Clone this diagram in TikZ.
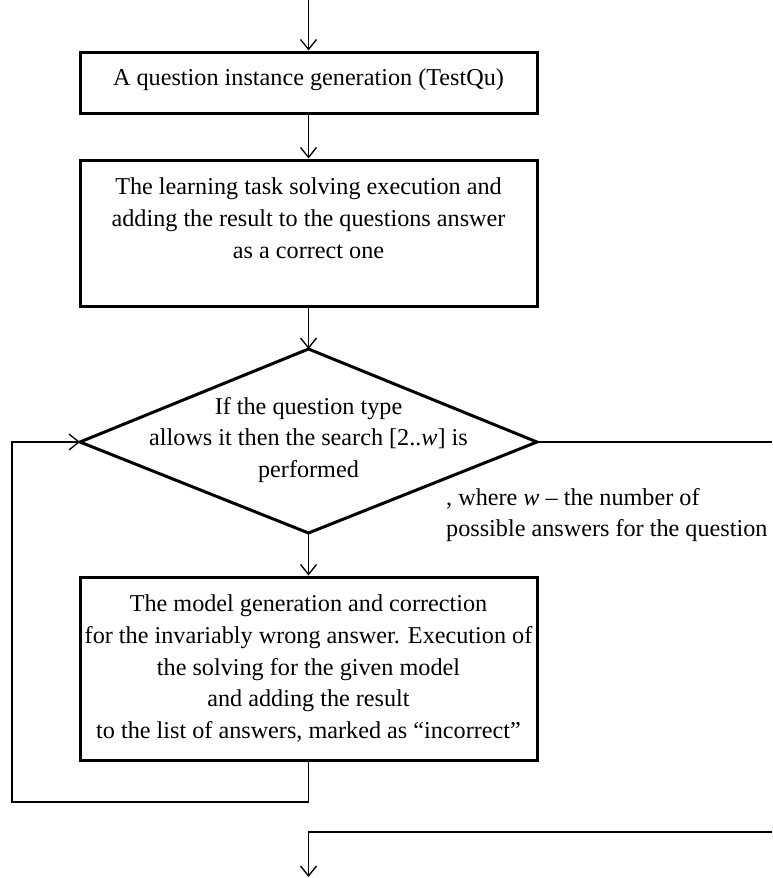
\documentclass[tikz,border=0pt]{standalone}
\usepackage{fontspec}
\setmainfont{Liberation Serif}
\usetikzlibrary{arrows.meta}

\begin{document}
\begin{tikzpicture}[x=1pt,y=-1pt,
  every node/.style={font=\fontsize{24.2}{31.8}\selectfont},
  stepbox/.style={draw, line width=3pt, minimum width=457pt, inner sep=0pt},
  txt/.style={align=center, inner sep=0pt},
  conn/.style={line width=1.3pt},
  arr/.style={conn, -{Straight Barb[length=10pt,width=16pt,line width=1.3pt]}}]

  % canvas
  \useasboundingbox (0,0) rectangle (772,878);

  % process boxes
  \node[stepbox, minimum height=61pt]  (b1) at (308.5,82.5) {};
  \node[stepbox, minimum height=146pt] (b2) at (308.5,233) {};
  \node[stepbox, minimum height=183pt] (b3) at (308.5,668.5) {};

  \node[txt] (t1) at (308.5,80) {A question instance generation (TestQu)};
  \node[txt] (t2) at (308.5,218) {The learning task solving execution and\\
    adding the result to the questions answer\\as a correct one};
  \node[txt] (t3) at (308.5,668.5) {The model generation and correction\\
    for the invariably wrong answer. Execution of\\
    the solving for the given model\\
    and adding the result\\
    to the list of answers, marked as “incorrect”};

  % decision diamond
  \coordinate (dT) at (308.5,349);
  \coordinate (dR) at (537,442);
  \coordinate (dB) at (308.5,533);
  \coordinate (dL) at (80,442);
  \draw[line width=3pt, line join=miter] (dT) -- (dR) -- (dB) -- (dL) -- cycle;
  \node[txt] (td) at (308.5,440) {If the question type\\
    allows it then the search [2..\textit{w}] is\\performed};

  % note beside the diamond
  \node[align=left, anchor=west, inner sep=0pt] (note) at (446,515)
    {, where \textit{w} – the number of\\possible answers for the question};

  % free ends and bends
  \coordinate (in)   at (308.5,0);
  \coordinate (exR)  at (772,442);
  \coordinate (lpB)  at (308.5,802);
  \coordinate (lpBL) at (12,802);
  \coordinate (lpTL) at (12,442);
  \coordinate (exB)  at (772,832);
  \coordinate (bBend) at (308.5,832);
  \coordinate (out)  at (308.5,877);

  % connectors
  \draw[arr] (in) -- (b1.north);
  \draw[arr] (b1.south) -- (b2.north);
  \draw[arr] (b2.south) -- (dT);
  \draw[arr] (dB) -- (b3.north);
  \draw[conn] (dR) -- (exR);
  \draw[arr] (b3.south) -- (lpB) -- (lpBL) -- (lpTL) -- (dL);
  \draw[arr] (exB) -- (bBend) -- (out);
\end{tikzpicture}
\end{document}
